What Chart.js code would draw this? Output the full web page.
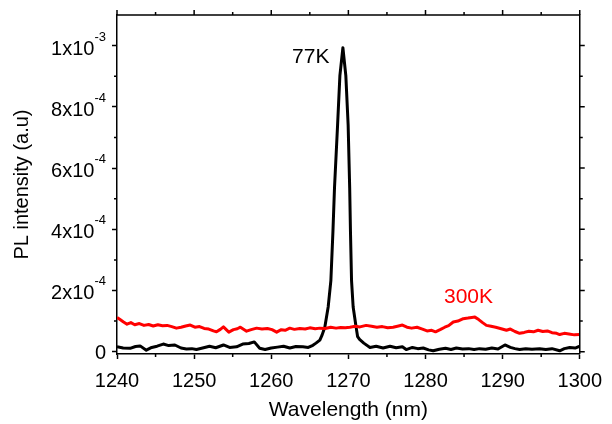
<!DOCTYPE html>
<html>
<head>
<meta charset="utf-8">
<script src="https://cdn.jsdelivr.net/npm/chart.js@4/dist/chart.umd.min.js"></script>
<style>
  html, body { margin: 0; padding: 0; background: #fff; }
  #plChart { display: block; }
</style>
</head>
<body>
<canvas id="plChart" width="612" height="424"></canvas>
<script>
// PL spectra, intensity in units of 1e-4 (a.u.)

const wavelength77K = [1240, 1240.8, 1241.7, 1242.4, 1243, 1243.8, 1244.5, 1245.2, 1246, 1246.7,
  1247.5, 1248.3, 1249, 1249.7, 1250.3, 1251.1, 1252, 1252.8, 1253.8, 1254.6,
  1255.5, 1256.3, 1257.1, 1257.8, 1258.5, 1259.2, 1260, 1260.8, 1261.6, 1262.4,
  1263.2, 1264.1, 1264.8, 1265.4, 1265.8, 1266.3, 1266.6, 1266.95, 1267.38, 1267.73,
  1268.0, 1268.2, 1268.6, 1268.9, 1269.29, 1269.67, 1269.97, 1270.17, 1270.27, 1270.41,
  1270.62, 1271.0, 1271.2, 1271.45, 1272.0, 1272.8, 1273.6, 1274.5, 1275.4, 1276.2,
  1277, 1277.5, 1278.3, 1279, 1279.7, 1280.4, 1281, 1281.8, 1282.6, 1283.3,
  1284, 1284.8, 1285.6, 1286.3, 1287, 1287.8, 1288.6, 1289.4, 1290.3, 1291,
  1291.6, 1292.2, 1293, 1293.8, 1294.8, 1295.6, 1296.4, 1297.4, 1298, 1298.7,
  1299.4, 1300];
const intensity77K = [0.16, 0.12, 0.11, 0.17, 0.19, 0.05, 0.14, 0.18, 0.25, 0.2,
  0.22, 0.12, 0.09, 0.1, 0.07, 0.12, 0.18, 0.13, 0.22, 0.14,
  0.16, 0.25, 0.27, 0.32, 0.11, 0.07, 0.12, 0.15, 0.18, 0.12,
  0.17, 0.16, 0.14, 0.21, 0.28, 0.38, 0.55, 0.81, 1.46, 2.32,
  3.94, 5.35, 7.4, 9.02, 9.93, 9.02, 7.4, 5.35, 3.94, 2.32,
  1.46, 0.81, 0.49, 0.4, 0.28, 0.14, 0.18, 0.12, 0.18, 0.13,
  0.16, 0.07, 0.14, 0.1, 0.12, 0.06, 0.03, 0.08, 0.11, 0.07,
  0.12, 0.09, 0.1, 0.07, 0.1, 0.08, 0.12, 0.09, 0.22, 0.14,
  0.1, 0.07, 0.1, 0.08, 0.1, 0.07, 0.1, 0.03, 0.1, 0.14,
  0.12, 0.18];

const wavelength300K = [1240, 1240.4, 1240.8, 1241.3, 1241.8, 1242.3, 1242.9, 1243.5, 1244.1, 1244.7,
  1245.3, 1245.9, 1246.5, 1247.1, 1247.7, 1248.3, 1248.9, 1249.5, 1250.1, 1250.7,
  1251.3, 1251.9, 1252.5, 1252.9, 1253.4, 1253.8, 1254.5, 1255.1, 1255.6, 1256,
  1256.8, 1257.4, 1258.1, 1258.8, 1259.5, 1260.1, 1260.7, 1261.3, 1261.8, 1262.4,
  1263, 1263.7, 1264.4, 1265, 1265.7, 1266.3, 1267, 1267.7, 1268.4, 1269,
  1269.6, 1270.2, 1270.9, 1271.5, 1272.3, 1273, 1273.7, 1274.4, 1275.1, 1275.8,
  1276.5, 1277, 1277.6, 1278.2, 1278.9, 1279.6, 1280.2, 1280.8, 1281.3, 1281.9,
  1282.5, 1283, 1283.6, 1284.2, 1284.9, 1285.5, 1286, 1286.4, 1286.9, 1287.4,
  1287.9, 1288.5, 1289.1, 1289.7, 1290.5, 1291, 1291.6, 1292.2, 1292.8, 1293.4,
  1294, 1294.6, 1295.2, 1295.8, 1296.4, 1297, 1297.4, 1298, 1298.6, 1299.3,
  1300];
const intensity300K = [1.12, 1.05, 0.98, 0.9, 0.95, 0.88, 0.92, 0.86, 0.89, 0.84,
  0.88, 0.85, 0.86, 0.82, 0.77, 0.8, 0.84, 0.87, 0.8, 0.82,
  0.76, 0.74, 0.68, 0.65, 0.73, 0.81, 0.64, 0.72, 0.75, 0.8,
  0.67, 0.72, 0.77, 0.74, 0.76, 0.72, 0.64, 0.72, 0.7, 0.77,
  0.73, 0.76, 0.74, 0.78, 0.75, 0.77, 0.76, 0.8, 0.77, 0.79,
  0.78, 0.8, 0.83, 0.81, 0.86, 0.83, 0.8, 0.82, 0.78, 0.8,
  0.84, 0.87, 0.8, 0.77, 0.8, 0.74, 0.68, 0.7, 0.65, 0.72,
  0.8, 0.85, 0.97, 1.0, 1.08, 1.1, 1.12, 1.13, 1.05, 0.95,
  0.86, 0.83, 0.8, 0.76, 0.7, 0.74, 0.66, 0.6, 0.63, 0.67,
  0.65, 0.7, 0.66, 0.68, 0.62, 0.6, 0.56, 0.6, 0.58, 0.55,
  0.56];

const xMajorTicks = [1240, 1250, 1260, 1270, 1280, 1290, 1300];
const xMinorTicks = [1245, 1255, 1265, 1275, 1285, 1295];
const yMajorTicks = [0, 2, 4, 6, 8, 10];
const yMinorTicks = [1, 3, 5, 7, 9];
const yTickMantissa = ["0", "2x10", "4x10", "6x10", "8x10", "1x10"];
const yTickExponent = ["", "-4", "-4", "-4", "-4", "-3"];

const FONT = "'Liberation Sans', Arial, sans-serif";

function toPoints(xs, ys) {
  return xs.map((x, i) => ({ x: x, y: ys[i] }));
}

const framePlugin = {
  id: "frame",
  afterDraw(chart) {
    const c = chart.ctx;
    const area = chart.chartArea;
    const xs = chart.scales.x;
    const ys = chart.scales.y;
    c.save();
    c.strokeStyle = "#000";
    c.lineWidth = 1.5;
    // top and right frame lines
    c.beginPath();
    c.moveTo(area.left, area.top);
    c.lineTo(area.right, area.top);
    c.lineTo(area.right, area.bottom);
    c.stroke();

    // ticks on all sides
    c.beginPath();
    xMinorTicks.forEach(v => {
      const px = xs.getPixelForValue(v);
      c.moveTo(px, area.bottom); c.lineTo(px, area.bottom + 3);
      c.moveTo(px, area.top); c.lineTo(px, area.top - 3);
    });
    xMajorTicks.forEach(v => {
      const px = xs.getPixelForValue(v);
      c.moveTo(px, area.top); c.lineTo(px, area.top - 5);
    });
    yMinorTicks.forEach(v => {
      const py = ys.getPixelForValue(v);
      c.moveTo(area.left, py); c.lineTo(area.left - 3, py);
      c.moveTo(area.right, py); c.lineTo(area.right + 3, py);
    });
    yMajorTicks.forEach(v => {
      const py = ys.getPixelForValue(v);
      c.moveTo(area.right, py); c.lineTo(area.right + 5, py);
    });
    c.stroke();

    // y tick labels with superscript exponent
    c.fillStyle = "#000";
    c.textBaseline = "alphabetic";
    yMajorTicks.forEach((v, i) => {
      const py = ys.getPixelForValue(v);
      const right = area.left - 11;
      const exp = yTickExponent[i];
      c.font = "13px " + FONT;
      const expW = exp ? c.measureText(exp).width : 0;
      c.font = "20px " + FONT;
      c.textAlign = "right";
      const base = exp ? py + 9 : py + 7;
      c.fillText(yTickMantissa[i], right - expW, base);
      if (exp) {
        c.font = "13px " + FONT;
        c.textAlign = "left";
        c.fillText(exp, right - expW, base - 14);
      }
    });

    // series labels
    c.textAlign = "left";
    c.font = "21px " + FONT;
    c.fillStyle = "#000";
    c.fillText("77K", xs.getPixelForValue(1262.7), ys.getPixelForValue(9.42));
    c.fillStyle = "#ff0000";
    c.fillText("300K", xs.getPixelForValue(1282.4), ys.getPixelForValue(1.58));
    c.restore();
  }
};

const config = {
  type: "scatter",
  data: {
    datasets: [
      {
        label: "300K",
        data: toPoints(wavelength300K, intensity300K),
        showLine: true,
        borderColor: "#ff0000",
        backgroundColor: "#ff0000",
        borderWidth: 3,
        borderJoinStyle: "round",
        pointRadius: 0,
        tension: 0,
      },
      {
        label: "77K",
        data: toPoints(wavelength77K, intensity77K),
        showLine: true,
        borderColor: "#000000",
        backgroundColor: "#000000",
        borderWidth: 3,
        borderJoinStyle: "round",
        pointRadius: 0,
        tension: 0,
      },
    ],
  },
  options: {
    responsive: false,
    animation: false,
    devicePixelRatio: 1,
    layout: { padding: { top: 13, right: 32, left: 0, bottom: 0 } },
    plugins: { legend: { display: false }, tooltip: { enabled: false } },
    scales: {
      x: {
        type: "linear",
        min: 1240,
        max: 1300,
        afterBuildTicks: s => { s.ticks = xMajorTicks.map(v => ({ value: v })); },
        afterFit: s => { s.height = 70; },
        grid: { drawOnChartArea: false, tickLength: 5, tickColor: "#000", tickWidth: 1.5 },
        border: { color: "#000", width: 1.5 },
        ticks: {
          color: "#000",
          padding: 10,
          maxRotation: 0,
          font: { family: FONT, size: 20 },
          callback: v => String(v),
        },
        title: {
          display: true,
          text: "Wavelength (nm)",
          color: "#000",
          font: { family: FONT, size: 21 },
          padding: { top: 0, bottom: 1 },
        },
      },
      y: {
        type: "linear",
        min: -0.075,
        max: 11,
        afterBuildTicks: s => { s.ticks = yMajorTicks.map(v => ({ value: v })); },
        afterFit: s => { s.width = 117; },
        grid: { drawOnChartArea: false, tickLength: 5, tickColor: "#000", tickWidth: 1.5 },
        border: { color: "#000", width: 1.5 },
        ticks: { color: "rgba(0,0,0,0)", font: { family: FONT, size: 20 } },
        title: {
          display: true,
          text: "PL intensity (a.u)",
          color: "#000",
          font: { family: FONT, size: 20 },
          padding: { top: 10, bottom: 0 },
        },
      },
    },
  },
  plugins: [framePlugin],
};

const ctx = document.getElementById("plChart").getContext("2d");
const plChart = new Chart(ctx, config);
</script>
</body>
</html>
